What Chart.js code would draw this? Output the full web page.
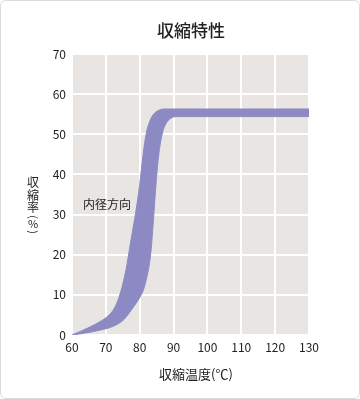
<!DOCTYPE html>
<html>
<head>
<meta charset="utf-8">
<script src="https://cdn.jsdelivr.net/npm/chart.js@4.4.1/dist/chart.umd.min.js"></script>
<style>
    html, body { margin: 0; padding: 0; background: #fff; }
    #wrap {
        position: relative;
        width: 358px;
        height: 397px;
        border: 1px solid #dcdcdc;
        border-radius: 6px;
        overflow: hidden;
    }
    canvas { position: absolute; left: -1px; top: -1px; }
</style>
</head>
<body>
<div id="wrap"><canvas id="grafico" width="360" height="399"></canvas></div>
<script>
// 収縮特性 - 内径方向 (上限・下限の帯)
const upperTemp = [60, 63, 66, 69, 71, 72, 73, 74, 75, 76, 77, 78, 79, 80, 81, 82, 83, 84, 85, 86, 87, 130];
const upperRate = [0, 1.1, 2.3, 3.7, 5.0, 6.0, 7.5, 9.7, 12.7, 16.5, 21.5, 26.5, 31.5, 37.5, 45, 50.5, 53.3, 54.9, 55.7, 56.1, 56.3, 56.3];

const lowerTemp = [60, 63, 66, 69, 71, 73, 75, 76, 77, 78, 79, 80, 81, 82, 83, 83.5, 84, 84.5, 85, 85.5, 86, 86.5, 87, 88, 89, 90, 91, 130];
const lowerRate = [0, 0.35, 0.8, 1.35, 1.8, 2.5, 3.6, 4.5, 5.6, 6.8, 8.0, 9.3, 11, 14, 18.5, 22.5, 28, 34, 39.5, 44, 47.2, 49.5, 51.2, 53, 53.9, 54.3, 54.4, 54.4];

const xTicks = [60, 70, 80, 90, 100, 110, 120, 130];
const yTicks = [0, 10, 20, 30, 40, 50, 60, 70];

const titulo = '収縮特性';
const rotuloX = '収縮温度(℃)';
const rotuloY = ['収', '縮', '率', '(', '%', ')'];
const rotuloSerie = '内径方向';

const corBanda = '#8d8ac3';
const fonte = '"Noto Sans CJK JP", "Noto Sans", sans-serif';

function toPoints(xs, ys) {
    return xs.map((x, i) => ({ x: x, y: ys[i] }));
}

const decoracao = {
    id: 'decoracao',
    beforeDraw(chart) {
        const { ctx, chartArea } = chart;
        ctx.save();
        ctx.fillStyle = '#e8e5e2';
        ctx.fillRect(chartArea.left, chartArea.top, chartArea.right - chartArea.left, chartArea.bottom - chartArea.top);
        ctx.restore();
    },
    afterDraw(chart) {
        const { ctx } = chart;
        ctx.save();
        ctx.fillStyle = '#222';
        ctx.textAlign = 'center';
        ctx.textBaseline = 'middle';

        ctx.font = '500 17px ' + fonte;
        ctx.fillText(titulo, 191, 31);

        ctx.font = '13px ' + fonte;
        ctx.fillText(rotuloX, 196, 374);

        // rótulo vertical do eixo Y, parênteses girados
        const posY = [182, 195, 207, 217, 224, 232];
        rotuloY.forEach((ch, i) => {
            ctx.save();
            ctx.translate(33, posY[i]);
            if (ch === '(' || ch === ')') {
                ctx.rotate(Math.PI / 2);
                ctx.font = '11px ' + fonte;
            } else {
                ctx.font = (ch === '%' ? '11px ' : '12px ') + fonte;
            }
            ctx.fillText(ch, 0, 0);
            ctx.restore();
        });

        ctx.font = '12px ' + fonte;
        ctx.fillText(rotuloSerie, 107, 204);
        ctx.restore();
    }
};

const ctx = document.getElementById('grafico').getContext('2d');
new Chart(ctx, {
    type: 'line',
    data: {
        datasets: [{
            label: 'upper',
            data: toPoints(upperTemp, upperRate),
            borderColor: corBanda,
            backgroundColor: corBanda,
            borderWidth: 1,
            pointRadius: 0,
            cubicInterpolationMode: 'monotone',
            fill: false
        }, {
            label: 'lower',
            data: toPoints(lowerTemp, lowerRate),
            borderColor: corBanda,
            backgroundColor: corBanda,
            borderWidth: 1,
            pointRadius: 0,
            cubicInterpolationMode: 'monotone',
            fill: '-1'
        }]
    },
    options: {
        responsive: false,
        animation: false,
        events: [],
        layout: { padding: { top: 54, right: 51, left: 0, bottom: 0 } },
        plugins: {
            legend: { display: false },
            tooltip: { enabled: false },
            filler: { propagate: false }
        },
        scales: {
            x: {
                type: 'linear',
                min: 60,
                max: 130,
                afterBuildTicks: scale => { scale.ticks = xTicks.map(v => ({ value: v })); },
                afterFit: scale => { scale.height = 64; },
                grid: { color: '#ffffff', lineWidth: 2, drawTicks: false },
                border: { display: false },
                ticks: {
                    color: '#222',
                    padding: 5,
                    maxRotation: 0,
                    font: { family: fonte, size: 12 }
                }
            },
            y: {
                min: 0,
                max: 70,
                afterBuildTicks: scale => { scale.ticks = yTicks.map(v => ({ value: v })); },
                afterFit: scale => { scale.width = 72; },
                grid: { color: '#ffffff', lineWidth: 2, drawTicks: false },
                border: { display: false },
                ticks: {
                    color: '#222',
                    padding: 6,
                    font: { family: fonte, size: 12 }
                }
            }
        }
    },
    plugins: [decoracao]
});
</script>
</body>
</html>
